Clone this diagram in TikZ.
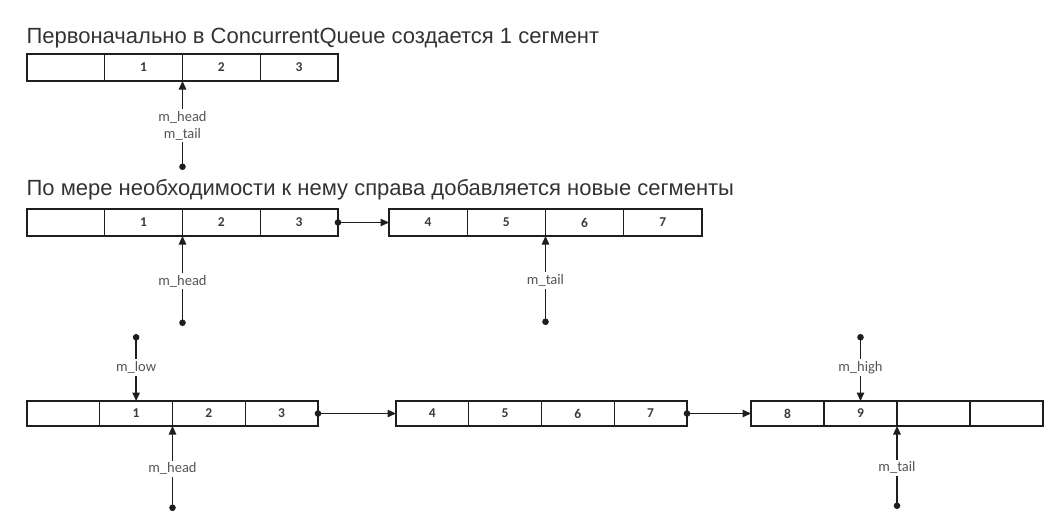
\documentclass[tikz,border=0pt]{standalone}
\usepackage{fontspec}
\setmainfont{Liberation Sans}
\newfontfamily\cellfont{Carlito}
\usetikzlibrary{arrows.meta,positioning}
\definecolor{titlegray}{HTML}{333333}
\definecolor{lblgray}{HTML}{555555}
\definecolor{numgray}{HTML}{3A3A3A}
\definecolor{linegray}{HTML}{1E1E1E}
\tikzset{
  cell/.style={draw=linegray, minimum height=27pt, inner sep=0pt, outer sep=0pt,
    font=\cellfont\bfseries\fontsize{13.5}{14}\selectfont, text=numgray},
  title/.style={anchor=base west, inner sep=0pt,
    font=\fontsize{22}{24}\selectfont, text=titlegray},
  ptr/.style={draw=linegray, {Circle[length=6.5pt]}-{Triangle[length=8.5pt,width=7.5pt]}},
  link/.style={ptr, shorten <=-3.25pt},
  lbl/.style={midway, fill=white, inner sep=2pt, align=center,
    font=\cellfont\fontsize{14.5}{17}\selectfont, text=lblgray}
}
\begin{document}
\begin{tikzpicture}[x=1pt, y=-1pt, line width=1.3pt]
  \useasboundingbox (0,0) rectangle (1058,520);

  % one segment
  \node[title] (t1) at (26,43) {Первоначально в ConcurrentQueue создается 1 сегмент};
  \foreach \i/\t in {1/{},2/1,3/2,4/3}
    \node[cell, minimum width=77.75pt] (A\i) at ({27+77.75*(\i-0.5)},67.5) {\t};
  \coordinate[below=89pt of A2.south east] (a);
  \draw[ptr] (a) -- node[lbl] {m\_head\\m\_tail} (A2.south east);

  % two segments
  \node[title] (t2) at (26,195) {По мере необходимости к нему справа добавляется новые сегменты};
  \foreach \i/\t in {1/{},2/1,3/2,4/3}
    \node[cell, minimum width=77.75pt] (B\i) at ({27+77.75*(\i-0.5)},222.5) {\t};
  \foreach \i/\t in {1/4,2/5,3/6,4/7}
    \node[cell, minimum width=78.25pt] (C\i) at ({389+78.25*(\i-0.5)},222.5) {\t};
  \draw[link] (B4.east) -- (C1.west);
  \coordinate[below=90pt of B2.south east] (b);
  \coordinate[below=89pt of C2.south east] (c);
  \draw[ptr] (b) -- node[lbl] {m\_head} (B2.south east);
  \draw[ptr] (c) -- node[lbl] {m\_tail} (C2.south east);

  % three segments
  \foreach \i/\t in {1/{},2/1,3/2,4/3}
    \node[cell, minimum width=72.75pt, minimum height=25pt] (D\i) at ({27+72.75*(\i-0.5)},413.5) {\t};
  \foreach \i/\t in {1/4,2/5,3/6,4/7}
    \node[cell, minimum width=72.75pt, minimum height=25pt] (E\i) at ({396+72.75*(\i-0.5)},413.5) {\t};
  \foreach \i/\t in {1/8,2/9,3/{},4/{}}
    \node[cell, minimum width=73pt, minimum height=25pt] (F\i) at ({751+73*(\i-0.5)},413.5) {\t};
  \draw[link] (D4.east) -- (E1.west);
  \draw[link] (E4.east) -- (F1.west);
  \coordinate[above=67pt of D2.north] (lo);
  \coordinate[above=67pt of F2.north] (hi);
  \coordinate[below=85pt of D2.south east] (d);
  \coordinate[below=83pt of F2.south east] (f);
  \draw[ptr] (lo) -- node[lbl] {m\_low} (D2.north);
  \draw[ptr] (hi) -- node[lbl] {m\_high} (F2.north);
  \draw[ptr] (d) -- node[lbl] {m\_head} (D2.south east);
  \draw[ptr] (f) -- node[lbl] {m\_tail} (F2.south east);
\end{tikzpicture}
\end{document}
